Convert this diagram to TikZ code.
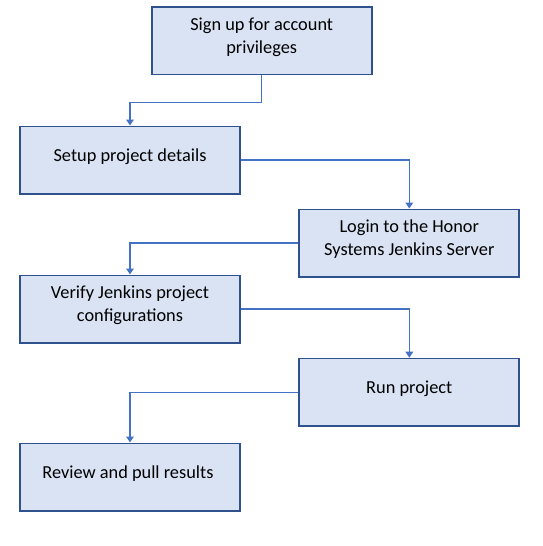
\documentclass[tikz,border=0pt]{standalone}
\usepackage{fontspec}
\setmainfont{Carlito}
\usetikzlibrary{arrows.meta}
\definecolor{boxfill}{HTML}{DAE3F3}
\definecolor{boxline}{HTML}{2F528F}
\definecolor{flowline}{HTML}{4472C4}
\newcommand{\lowerpad}{\rule[-6.3pt]{0pt}{6.3pt}}
\tikzset{
    stepbox/.style={draw=boxline, line width=1pt, fill=boxfill, minimum width=132pt,
        minimum height=40.4pt, inner sep=0pt, align=center,
        font=\fontsize{11}{13.6}\selectfont, execute at end node=\lowerpad},
    flow/.style={draw=flowline, line width=0.75pt, -{Triangle[length=3.6pt,width=4.6pt]}}
}

\begin{document}
\begin{tikzpicture}[x=0.6pt, y=-0.6pt]
\useasboundingbox (0,0) rectangle (542,546);
\foreach \name/\x/\y/\txt in {
    s1/261.7/40.7/{Sign up for account\\privileges},
    s2/130/160/{Setup project details},
    s3/409.3/243/{Login to the Honor\\Systems Jenkins Server},
    s4/130/309/{Verify Jenkins project\\configurations},
    s5/409.3/392.2/{Run project},
    s6/130/477/{Review and pull results}
}{
    \node[stepbox] (\name) at (\x,\y) {\txt};
}
\draw[flow] (s1.south) -- ++(0,27) -| (s2.north);
\foreach \a/\b in {s2.east/s3.north, s3.west/s4.north, s4.east/s5.north, s5.west/s6.north}{
    \draw[flow] (\a) -| (\b);
}
\end{tikzpicture}
\end{document}
